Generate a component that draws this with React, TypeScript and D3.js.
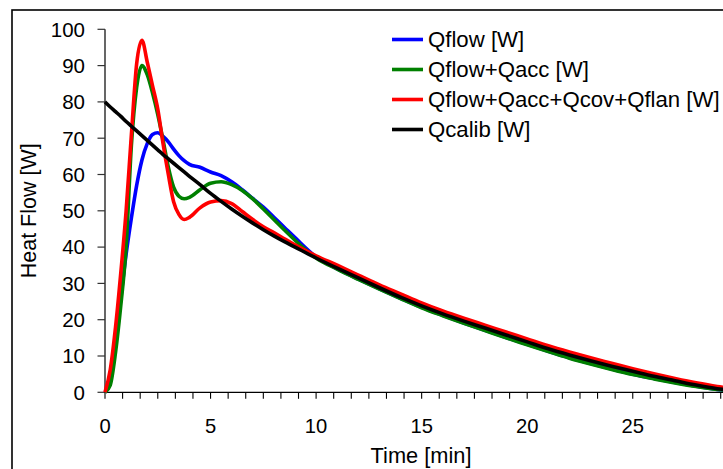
import React from "react";
import * as d3 from "d3";

const timeMin = [
  0, 0.25, 0.5, 0.75, 1, 1.25, 1.5, 1.75, 2, 2.25, 2.5, 2.75, 3, 3.25, 3.5, 3.75, 4,
  4.5, 5, 5.5, 6, 6.5, 7, 7.5, 8, 8.5, 9,
  10, 11, 12, 13, 14, 15, 16, 17, 18, 19, 20, 21, 22, 23, 24, 25, 26, 27, 28, 29, 30,
];

const qflow = [
  0, 3, 13, 26, 38, 48, 57, 64, 68.5, 71, 71.5, 70.5, 69, 67, 65.2, 63.8, 62.8,
  62.0, 60.7, 59.7, 58, 55.8, 53.4, 51, 48.2, 45.4, 42.6,
  37.3, 34, 31.2, 28.5, 25.9, 23.4, 21.2, 19.1, 17.1, 15.1, 13.2, 11.3, 9.5, 7.9, 6.4, 5.0, 3.8, 2.7, 1.7, 0.8, 0.3,
];

const qflowAcc = [
  0, 2, 11, 24, 40, 68, 84, 90, 87.5, 82.5, 76.5, 69.5, 62, 56.5, 54, 53.3, 53.7,
  55.8, 57.6, 58, 57.2, 55.6, 53.3, 50.5, 47.6, 44.7, 41.9,
  37.0, 33.9, 31.1, 28.4, 25.8, 23.3, 21.1, 19, 17, 15, 13.1, 11.2, 9.4, 7.8, 6.3, 4.9, 3.7, 2.6, 1.6, 0.8, 0.3,
];

const qflowAll = [
  0, 6.3, 18, 33, 50, 71, 90.5, 97, 91, 84.5, 78, 68.5, 60, 52.5, 49, 47.6, 48.2,
  50.8, 52.4, 52.8, 52, 49.8, 47.6, 45.6, 44, 42.3, 40.6,
  37.6, 35, 32.3, 29.6, 27.1, 24.6, 22.4, 20.4, 18.5, 16.6, 14.7, 12.8, 11.1, 9.5, 8.0, 6.5, 5.1, 3.8, 2.6, 1.6, 0.9,
];

const qcalib = [
  80, 78.6, 77.3, 76, 74.6, 73.3, 72, 70.7, 69.4, 68.1, 66.8, 65.5, 64.3, 63.1, 61.9, 60.7, 59.5,
  57.2, 54.8, 52.6, 50.5, 48.5, 46.6, 44.8, 43.1, 41.5, 40,
  37, 34.2, 31.5, 28.8, 26.2, 23.8, 21.6, 19.6, 17.7, 15.8, 13.9, 12, 10.3, 8.7, 7.2, 5.8, 4.4, 3.2, 2.0, 1.0, 0.4,
];

const seriesNames = ["Qflow [W]", "Qflow+Qacc [W]", "Qflow+Qacc+Qcov+Qflan [W]", "Qcalib [W]"];
const seriesColors = ["#0000FF", "#008000", "#FF0000", "#000000"];
const seriesValues = [qflow, qflowAcc, qflowAll, qcalib];

const yTicks = [0, 10, 20, 30, 40, 50, 60, 70, 80, 90, 100];
const xLabelTicks = [0, 5, 10, 15, 20, 25];

const W = 723;
const H = 469;
const FONT = "Liberation Sans, Arial, sans-serif";

export default function App() {
  const x = d3.scaleLinear().domain([0, 30]).range([105, 738.3]);
  const y = d3.scaleLinear().domain([0, 100]).range([392.3, 29.3]);
  const minorTicks = d3.range(0, 36).map((i) => (i * 5) / 6);

  const line = d3
    .line<number>()
    .x((_, i) => x(timeMin[i]))
    .y((v) => y(v))
    .curve(d3.curveMonotoneX);

  const legendY = [39.5, 69.5, 99.5, 129.5];

  return (
    <svg
      width={W}
      height={H}
      style={{ position: "absolute", left: 0, top: 0, background: "#fff" }}
      fontFamily={FONT}
    >
      <rect x={0} y={0} width={W} height={H} fill="#fff" />
      <rect x={12} y={10} width={800} height={600} fill="none" stroke="#000" strokeWidth={1.6} />

      {/* y axis */}
      <line x1={105} x2={105} y1={y(0)} y2={y(100)} stroke="#000" strokeWidth={1.2} />
      {yTicks.map((t) => (
        <g key={"y" + t}>
          <line x1={97.5} x2={105} y1={y(t)} y2={y(t)} stroke="#333" strokeWidth={1.2} />
          <text x={85} y={y(t)} dy="0.36em" textAnchor="end" fontSize={20.5} fill="#000">
            {t}
          </text>
        </g>
      ))}

      {/* x axis */}
      <line x1={105} x2={W + 20} y1={y(0)} y2={y(0)} stroke="#000" strokeWidth={1.2} />
      {minorTicks.map((t, i) => (
        <line key={"xt" + i} x1={x(t)} x2={x(t)} y1={y(0)} y2={y(0) + 6.5} stroke="#000" strokeWidth={1.1} />
      ))}
      {xLabelTicks.map((t) => (
        <text key={"xl" + t} x={x(t)} y={432.8} textAnchor="middle" fontSize={20.2} fill="#000">
          {t}
        </text>
      ))}

      {/* axis titles */}
      <text x={421} y={462.5} textAnchor="middle" fontSize={21.8} fill="#000">
        Time [min]
      </text>
      <text
        transform={`translate(35.5, ${(y(0) + y(100)) / 2}) rotate(-90)`}
        textAnchor="middle"
        fontSize={21.5}
        fill="#000"
      >
        Heat Flow [W]
      </text>

      {/* series */}
      {seriesValues.map((vals, si) => (
        <path
          key={"s" + si}
          d={line(vals) || ""}
          fill="none"
          stroke={seriesColors[si]}
          strokeWidth={3.6}
          strokeLinejoin="round"
        />
      ))}

      {/* legend */}
      {seriesNames.map((name, i) => (
        <g key={"lg" + i}>
          <line x1={392} x2={423} y1={legendY[i]} y2={legendY[i]} stroke={seriesColors[i]} strokeWidth={3.6} />
          <text x={428} y={legendY[i] + 7.5} fontSize={22.2} fill="#000">
            {name}
          </text>
        </g>
      ))}
    </svg>
  );
}
